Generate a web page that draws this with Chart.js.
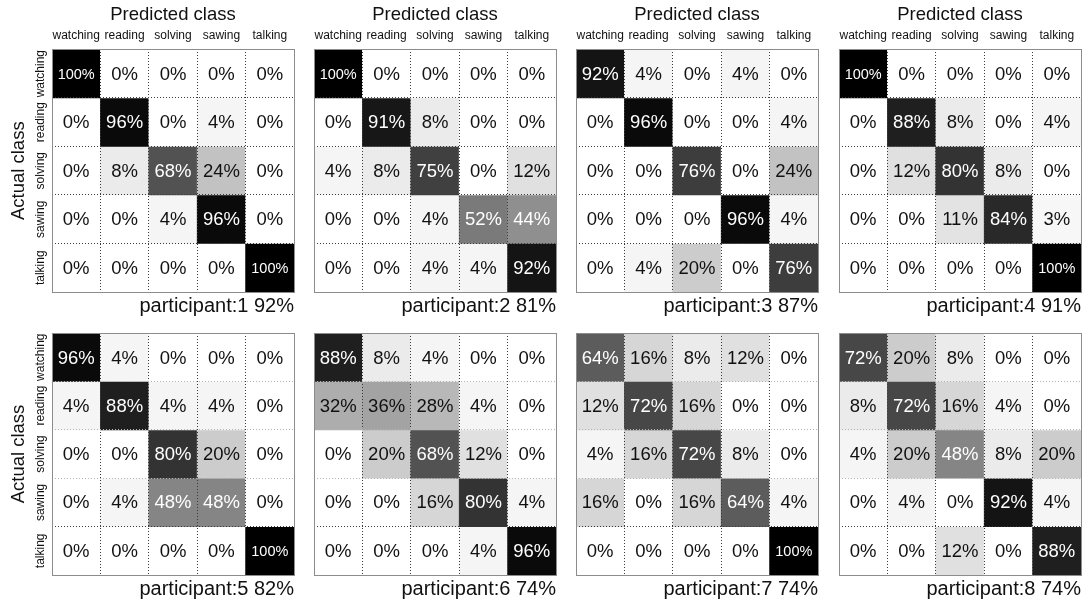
<!DOCTYPE html>
<html>
<head>
<meta charset="utf-8">
<title>Confusion matrices</title>
<script src="https://cdn.jsdelivr.net/npm/chart.js@4.4.1/dist/chart.umd.min.js"></script>
<style>
body { margin: 0; background: #fff; }
#wrap { position: relative; width: 1086px; height: 606px; }
#wrap canvas { position: absolute; }
</style>
</head>
<body>
<div id="wrap"></div>
<script>
var classes = ['watching', 'reading', 'solving', 'sawing', 'talking'];

// rows = actual class, columns = predicted class (%)
var p1 = [[100, 0, 0, 0, 0], [0, 96, 0, 4, 0], [0, 8, 68, 24, 0], [0, 0, 4, 96, 0], [0, 0, 0, 0, 100]];
var p2 = [[100, 0, 0, 0, 0], [0, 91, 8, 0, 0], [4, 8, 75, 0, 12], [0, 0, 4, 52, 44], [0, 0, 4, 4, 92]];
var p3 = [[92, 4, 0, 4, 0], [0, 96, 0, 0, 4], [0, 0, 76, 0, 24], [0, 0, 0, 96, 4], [0, 4, 20, 0, 76]];
var p4 = [[100, 0, 0, 0, 0], [0, 88, 8, 0, 4], [0, 12, 80, 8, 0], [0, 0, 11, 84, 3], [0, 0, 0, 0, 100]];
var p5 = [[96, 4, 0, 0, 0], [4, 88, 4, 4, 0], [0, 0, 80, 20, 0], [0, 4, 48, 48, 0], [0, 0, 0, 0, 100]];
var p6 = [[88, 8, 4, 0, 0], [32, 36, 28, 4, 0], [0, 20, 68, 12, 0], [0, 0, 16, 80, 4], [0, 0, 0, 4, 96]];
var p7 = [[64, 16, 8, 12, 0], [12, 72, 16, 0, 0], [4, 16, 72, 8, 0], [16, 0, 16, 64, 4], [0, 0, 0, 0, 100]];
var p8 = [[72, 20, 8, 0, 0], [8, 72, 16, 4, 0], [4, 20, 48, 8, 20], [0, 4, 0, 92, 4], [0, 0, 12, 0, 88]];

var matrices = [p1, p2, p3, p4, p5, p6, p7, p8];
var participants = ['participant:1', 'participant:2', 'participant:3', 'participant:4',
                    'participant:5', 'participant:6', 'participant:7', 'participant:8'];
var accuracy = [92, 81, 87, 91, 82, 74, 74, 74];

var FONT = "'Liberation Sans', Arial, Helvetica, sans-serif";

function gray(v) {
    var g = Math.round(255 * (1 - v / 100));
    return 'rgb(' + g + ',' + g + ',' + g + ')';
}

// same rounding chart.js uses for 1px grid lines
function snap(p) {
    return Math.round(p - 0.5) + 0.5;
}

// percentages in the cells, the outer frame and the row labels
var cellText = {
    id: 'cellText',
    afterDraw: function(chart) {
        var ctx = chart.ctx;
        var area = chart.chartArea;
        ctx.save();
        ctx.textAlign = 'center';
        ctx.textBaseline = 'middle';
        chart.data.datasets.forEach(function(ds, i) {
            chart.getDatasetMeta(i).data.forEach(function(bar, j) {
                var v = ds.values[j];
                var c = bar.getCenterPoint();
                ctx.font = (v >= 100 ? '14.5px ' : '18.5px ') + FONT;
                ctx.fillStyle = v > 40 ? '#ffffff' : '#111111';
                ctx.fillText(v + '%', c.x, c.y + 1);
            });
        });

        // grey frame drawn over the outermost dotted grid lines
        var l = snap(area.left), r = snap(area.right);
        var t = snap(area.top), b = snap(area.bottom);
        ctx.strokeStyle = '#8c8c8c';
        ctx.lineWidth = 1;
        ctx.strokeRect(l, t, r - l, b - t);

        if (chart.options.plugins.cellText.rows) {
            var y = chart.scales.y;
            ctx.fillStyle = '#111111';
            ctx.font = '12px ' + FONT;
            classes.forEach(function(name, i) {
                ctx.save();
                ctx.translate(40.5, y.getPixelForValue(i + 0.5));
                ctx.rotate(-Math.PI / 2);
                ctx.fillText(name, 0, 0);
                ctx.restore();
            });
            ctx.font = '18.5px ' + FONT;
            ctx.save();
            ctx.translate(18.5, (area.top + area.bottom) / 2);
            ctx.rotate(-Math.PI / 2);
            ctx.fillText('Actual class', 0, 0);
            ctx.restore();
        }
        ctx.restore();
    }
};

window.onload = function() {
    var wrap = document.getElementById('wrap');
    var lefts = [0, 262, 524, 787];
    var tops = [0, 283];

    matrices.forEach(function(m, k) {
        var col = k % 4;
        var row = Math.floor(k / 4);
        var top = row === 0;

        var canvas = document.createElement('canvas');
        canvas.width = 296;
        canvas.height = 320;
        canvas.style.left = lefts[col] + 'px';
        canvas.style.top = tops[row] + 'px';
        wrap.appendChild(canvas);

        var datasets = m.map(function(r, i) {
            return {
                data: r.map(function() { return [i, i + 1]; }),
                values: r,
                backgroundColor: r.map(gray),
                borderWidth: 0,
                barPercentage: 1,
                categoryPercentage: 1,
                grouped: false
            };
        });

        // lower panels: only the first row divider is dark, the rest faint
        var rowLine = function(c) {
            if (top || c.index === 1) return '#3a3a3a';
            return '#b4b4b4';
        };

        new Chart(canvas, {
            type: 'bar',
            data: { labels: classes, datasets: datasets },
            options: {
                responsive: false,
                devicePixelRatio: 1,
                animation: false,
                layout: { padding: { left: 0, right: 2, top: 0, bottom: 0 } },
                scales: {
                    x: {
                        type: 'category',
                        position: 'top',
                        offset: true,
                        grid: { offset: true, z: 1, color: '#3a3a3a', lineWidth: 1, drawTicks: false },
                        border: { display: false, dash: [1, 2] },
                        ticks: {
                            display: top, color: '#111', padding: 7,
                            maxRotation: 0, minRotation: 0, autoSkip: false,
                            font: { size: 12, family: FONT }
                        },
                        afterFit: function(s) {
                            s.height = top ? 23.2 : 50;
                            s.paddingLeft = 0;
                            s.paddingRight = 0;
                        }
                    },
                    y: {
                        type: 'linear',
                        min: 0,
                        max: 5,
                        reverse: true,
                        ticks: { display: false, stepSize: 1 },
                        grid: { z: 1, color: rowLine, lineWidth: 1, drawTicks: false },
                        border: { display: false, dash: [1, 2] },
                        afterFit: function(s) { s.width = 52; }
                    }
                },
                plugins: {
                    legend: { display: false },
                    tooltip: { enabled: false },
                    title: {
                        display: top,
                        text: 'Predicted class',
                        fullSize: false,
                        color: '#111',
                        font: { size: 18.5, family: FONT, weight: 'normal' },
                        padding: { top: 4, bottom: 0 }
                    },
                    subtitle: {
                        display: true,
                        position: 'bottom',
                        align: 'end',
                        fullSize: false,
                        text: participants[k] + ' ' + accuracy[k] + '%',
                        color: '#111',
                        font: { size: 20, family: FONT, weight: 'normal' },
                        padding: { top: 2, bottom: 2 }
                    },
                    cellText: { rows: col === 0 }
                }
            },
            plugins: [cellText]
        });
    });
};
</script>
</body>
</html>
